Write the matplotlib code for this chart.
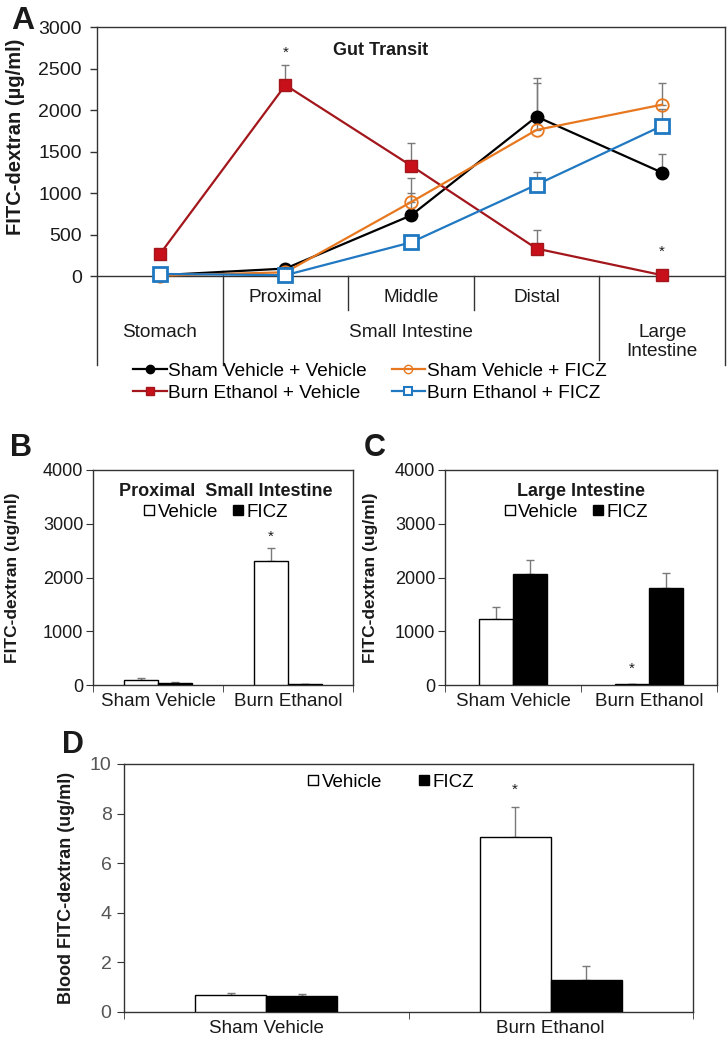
import matplotlib
matplotlib.use("Agg")
import matplotlib.pyplot as plt
from matplotlib.lines import Line2D
import numpy as np

plt.rcParams["font.family"] = ["Liberation Sans", "DejaVu Sans"]

W, H = 728, 1050

# ---- Panel A: gut transit ----
sites = ["Stomach", "Proximal", "Middle", "Distal", "Large Intestine"]
sham_veh = [10, 90, 730, 1920, 1245]
sham_veh_err = [20, 30, 445, 470, 222]
burn_veh = [262, 2300, 1330, 330, 10]
burn_veh_err = [40, 245, 278, 222, 10]
sham_ficz = [5, 45, 890, 1760, 2065]
sham_ficz_err = [10, 20, 112, 565, 255]
burn_ficz = [25, 10, 405, 1100, 1810]
burn_ficz_err = [10, 10, 60, 155, 200]
star_a = [(1, 2690), (4, 290)]

# ---- Panels B/C/D: bar charts ----
groups = ["Sham Vehicle", "Burn Ethanol"]
prox_veh = [90, 2300]
prox_veh_err = [40, 245]
prox_ficz = [35, 10]
prox_ficz_err = [20, 5]

large_veh = [1230, 20]
large_veh_err = [220, 0]
large_ficz = [2065, 1805]
large_ficz_err = [260, 280]

blood_veh = [0.70, 7.05]
blood_veh_err = [0.06, 1.23]
blood_ficz = [0.65, 1.28]
blood_ficz_err = [0.07, 0.58]

C_BLACK = "#000000"
C_RED = "#A3161B"
C_RED_FILL = "#C8101A"
C_ORANGE = "#E8781F"
C_BLUE = "#1F78C1"
C_ERR = "#7a7a7a"
C_TXT = "#1a1a1a"
C_AX = "#333333"


def rect(l, t, r, b):
    return [l / W, 1 - b / H, (r - l) / W, (b - t) / H]


fig = plt.figure(figsize=(W / 100, H / 100), dpi=100)

# ================= Panel A =================
ax = fig.add_axes(rect(97, 27, 725, 365))
ymin = -1072
ax.set_xlim(-0.5, 4.5)
ax.set_ylim(ymin, 3000)
ax.spines["bottom"].set_visible(False)
for s in ["left", "right", "top"]:
    ax.spines[s].set_color(C_AX)
    ax.spines[s].set_linewidth(1.0)
ax.set_xticks([])
ax.set_yticks([0, 500, 1000, 1500, 2000, 2500, 3000])
ax.tick_params(axis="y", labelsize=14, length=5, width=1.0, direction="out",
               color=C_AX, pad=6, labelcolor=C_TXT)
ax.axhline(0, color=C_AX, lw=1.0)

x = np.arange(len(sites))
series = [
    (sham_veh, sham_veh_err, C_BLACK, dict(marker="o", mfc=C_BLACK, mec=C_BLACK, ms=9)),
    (burn_veh, burn_veh_err, C_RED, dict(marker="s", mfc=C_RED_FILL, mec=C_RED, ms=9)),
    (sham_ficz, sham_ficz_err, C_ORANGE, dict(marker="o", mfc="none", mec=C_ORANGE, ms=9, mew=1.3)),
    (burn_ficz, burn_ficz_err, C_BLUE, dict(marker="s", mfc="white", mec=C_BLUE, ms=10, mew=2)),
]
for vals, err, col, mk in series:
    ax.errorbar(x, vals, yerr=[np.zeros(len(err)), err], fmt="none",
                ecolor=C_ERR, elinewidth=1.0, capsize=3, capthick=1.0, zorder=2)
    ax.plot(x, vals, color=col, lw=1.6, zorder=3, **mk)

for xs, ys in star_a:
    ax.text(xs, ys, "*", ha="center", va="center", fontsize=11, color=C_TXT)

ax.text(1.76, 2720, "Gut Transit", ha="center", va="center", fontsize=13,
        fontweight="bold", color=C_TXT)

# category separators below axis
ax.plot([0.5, 0.5], [60, ymin], color=C_AX, lw=1.0, clip_on=False)
ax.plot([3.5, 3.5], [0, -1010], color=C_AX, lw=1.0, clip_on=False)
for sx in [1.5, 2.5]:
    ax.plot([sx, sx], [0, -410], color=C_AX, lw=1.0)

fs_a = 13.7
for i, lab in enumerate(["Proximal", "Middle", "Distal"]):
    ax.text(i + 1, -253, lab, ha="center", va="center", fontsize=fs_a, color=C_TXT)
ax.text(0, -675, "Stomach", ha="center", va="center", fontsize=fs_a, color=C_TXT)
ax.text(2, -675, "Small Intestine", ha="center", va="center", fontsize=fs_a, color=C_TXT)
ax.text(4, -795, "Large\nIntestine", ha="center", va="center", fontsize=fs_a,
        color=C_TXT, linespacing=1.15)

ax.set_ylabel("FITC-dextran (µg/ml)", fontsize=14.5, fontweight="bold", color=C_TXT)
ax.yaxis.set_label_coords((25 - 97) / (725 - 97), (365 - 137) / (365 - 27))

handles = [
    Line2D([], [], color=C_BLACK, lw=1.6, marker="o", ms=6, mfc=C_BLACK),
    Line2D([], [], color=C_RED, lw=1.6, marker="s", ms=6, mfc=C_RED_FILL, mec=C_RED),
    Line2D([], [], color=C_ORANGE, lw=1.6, marker="o", ms=6, mfc="none", mec=C_ORANGE),
    Line2D([], [], color=C_BLUE, lw=1.6, marker="s", ms=6, mfc="white", mec=C_BLUE, mew=1.5),
]
labels = ["Sham Vehicle + Vehicle", "Burn Ethanol + Vehicle",
          "Sham Vehicle + FICZ", "Burn Ethanol + FICZ"]
fig.legend(handles, labels, ncol=2, loc="center", frameon=False,
           bbox_to_anchor=(370 / W, 1 - 382 / H), fontsize=fs_a,
           handlelength=1.75, handletextpad=0.1, columnspacing=1.3,
           labelspacing=0.25, borderpad=0)
fig.text(11 / W, 1 - 21 / H, "A", fontsize=23, fontweight="bold",
         ha="left", va="center", color=C_TXT)


# ================= Bar panels =================
def bar_panel(box, veh, veh_err, ficz, ficz_err, ymax, yticks, ylabel,
              label_x, width=0.26, fs=13.5, lab_fs=12.5, tick_col=C_TXT):
    bx = fig.add_axes(rect(*box))
    xg = np.arange(len(groups))
    bx.bar(xg - width / 2, veh, width, color="white", edgecolor="black", lw=1.0, zorder=3)
    bx.bar(xg + width / 2, ficz, width, color="black", edgecolor="black", lw=1.0, zorder=3)
    bx.errorbar(xg - width / 2, veh, yerr=[np.zeros(2), veh_err], fmt="none",
                ecolor=C_ERR, elinewidth=1.0, capsize=3, zorder=2)
    bx.errorbar(xg + width / 2, ficz, yerr=[np.zeros(2), ficz_err], fmt="none",
                ecolor=C_ERR, elinewidth=1.0, capsize=3, zorder=2)
    bx.set_xlim(-0.5, 1.5)
    bx.set_ylim(0, ymax)
    bx.set_yticks(yticks)
    bx.set_xticks(xg)
    bx.set_xticklabels(groups)
    bx.set_xticks([-0.5, 0.5, 1.5], minor=True)
    bx.tick_params(axis="x", which="major", length=0, labelsize=fs, pad=6, labelcolor=C_TXT)
    bx.tick_params(axis="x", which="minor", length=5, direction="out", color=C_AX)
    bx.tick_params(axis="y", length=5, direction="out", labelsize=fs - 0.5,
                   labelcolor=tick_col, color=C_AX, pad=2)
    for s in bx.spines.values():
        s.set_color(C_AX)
        s.set_linewidth(1.0)
    bx.set_ylabel(ylabel, fontsize=lab_fs, fontweight="bold", color=C_TXT)
    bx.yaxis.set_label_coords((label_x - box[0]) / (box[2] - box[0]), 0.5)
    return bx


sq_handles = [
    Line2D([], [], ls="none", marker="s", ms=7.5, mfc="white", mec="black", mew=1.0),
    Line2D([], [], ls="none", marker="s", ms=7.5, mfc="black", mec="black"),
]

# ---- B ----
bB = bar_panel((93, 470, 353, 685), prox_veh, prox_veh_err, prox_ficz, prox_ficz_err,
               4000, [0, 1000, 2000, 3000, 4000], "FITC-dextran (ug/ml)", 20)
bB.text(0.52, 3600, "Proximal  Small Intestine", ha="center", va="center",
        fontsize=13, fontweight="bold", color=C_TXT)
bB.legend(sq_handles, ["Vehicle", "FICZ"], ncol=2, loc="center",
          bbox_to_anchor=(0.47, 3215 / 4000), frameon=False, fontsize=13.5,
          handlelength=0.7, handletextpad=0.1, columnspacing=0.7, borderpad=0)
bB.text(1 - 0.13, 2750, "*", ha="center", va="center", fontsize=11, color=C_TXT)
fig.text(10 / W, 1 - 448 / H, "B", fontsize=22, fontweight="bold",
         ha="left", va="center", color=C_TXT)

# ---- C ----
bC = bar_panel((445, 470, 717, 685), large_veh, large_veh_err, large_ficz, large_ficz_err,
               4000, [0, 1000, 2000, 3000, 4000], "FITC-dextran (ug/ml)", 378, width=0.25)
bC.text(0.5, 3600, "Large Intestine", ha="center", va="center",
        fontsize=13, fontweight="bold", color=C_TXT)
bC.legend(sq_handles, ["Vehicle", "FICZ"], ncol=2, loc="center",
          bbox_to_anchor=(0.48, 3215 / 4000), frameon=False, fontsize=13.5,
          handlelength=0.7, handletextpad=0.1, columnspacing=0.7, borderpad=0)
bC.text(1 - 0.125, 300, "*", ha="center", va="center", fontsize=11, color=C_TXT)
fig.text(364 / W, 1 - 448 / H, "C", fontsize=22, fontweight="bold",
         ha="left", va="center", color=C_TXT)

# ---- D ----
bD = bar_panel((124, 764, 693, 1012), blood_veh, blood_veh_err, blood_ficz, blood_ficz_err,
               10, [0, 2, 4, 6, 8, 10], "Blood FITC-dextran (ug/ml)", 75, width=0.25,
               fs=13.5, lab_fs=13, tick_col="#555555")
bD.tick_params(axis="y", labelsize=14, pad=4)
bD.legend(sq_handles, ["Vehicle", "FICZ"], ncol=2, loc="center",
          bbox_to_anchor=(0.468, 9.27 / 10), frameon=False, fontsize=13.5,
          handlelength=0.7, handletextpad=0.1, columnspacing=1.9, borderpad=0)
bD.text(1 - 0.125, 8.95, "*", ha="center", va="center", fontsize=11, color=C_TXT)
fig.text(62 / W, 1 - 745 / H, "D", fontsize=22, fontweight="bold",
         ha="left", va="center", color=C_TXT)

fig.savefig("out.png", dpi=100)
